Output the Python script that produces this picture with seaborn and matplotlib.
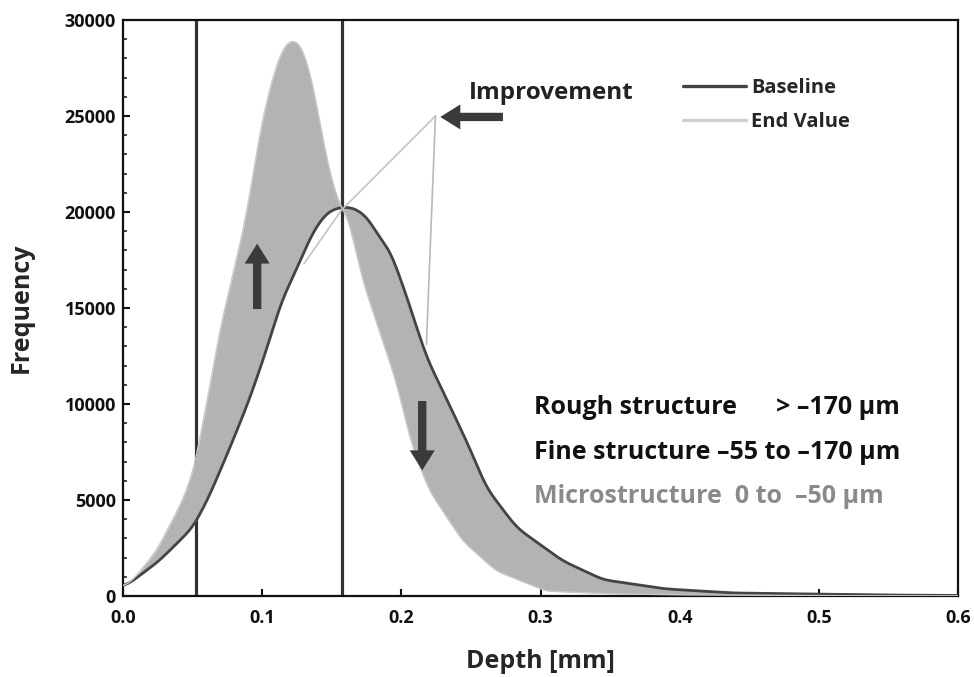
import numpy as np
import pandas as pd
import seaborn as sns
import matplotlib.pyplot as plt
from matplotlib.ticker import MultipleLocator

sns.set_theme(style="ticks")
plt.rcParams['font.family'] = ['Open Sans', 'DejaVu Sans']
plt.rcParams['font.weight'] = 'bold'

# depth [mm] and frequency
base_depth = [0.0, 0.004, 0.026, 0.050, 0.0605, 0.076, 0.0906, 0.103, 0.114, 0.1245,
              0.136, 0.146, 0.155, 0.165, 0.175, 0.184, 0.192, 0.204, 0.218, 0.232,
              0.249, 0.261, 0.283, 0.316, 0.345, 0.39, 0.438, 0.5, 0.55, 0.6]
base_freq = [500, 630, 1830, 3550, 4960, 7575, 10190, 12800, 15400, 16980,
             18910, 19960, 20250, 20250, 19800, 18700, 18020, 15570, 12430, 10340,
             7730, 5640, 3550, 1830, 850, 370, 160, 100, 50, 30]

end_depth = [0.0, 0.0065, 0.024, 0.043, 0.051, 0.0605, 0.071, 0.0747, 0.088, 0.100,
             0.109, 0.116, 0.122, 0.128, 0.134, 0.139, 0.141, 0.148, 0.156, 0.161,
             0.172, 0.184, 0.196, 0.208, 0.220, 0.244, 0.268, 0.304, 0.35, 0.4,
             0.5, 0.6]
end_freq = [500, 780, 2350, 5000, 6600, 10190, 14400, 15400, 19600, 24800,
            27400, 28700, 29000, 28700, 27400, 25700, 24800, 22200, 20200, 19950,
            16460, 13850, 11230, 7730, 5490, 2870, 1310, 260, 120, 60,
            20, 10]

structure_bounds = [0.0525, 0.157]
legend_labels = ["Baseline", "End Value"]
range_lines = ["Rough structure      > \u2013170 \u00b5m",
               "Fine structure \u201355 to \u2013170 \u00b5m",
               "Microstructure  0 to  \u201350 \u00b5m"]
range_colors = ["#111111", "#111111", "#8a8a8a"]


def smooth(x, y, grid, sigma=4):
    v = np.interp(grid, x, y)
    k = np.arange(-3 * sigma, 3 * sigma + 1)
    w = np.exp(-0.5 * (k / sigma) ** 2)
    w /= w.sum()
    p = np.pad(v, 3 * sigma, mode="edge")
    return np.convolve(p, w, mode="valid")


grid = np.linspace(0, 0.6, 601)
base_i = smooth(base_depth, base_freq, grid)
end_i = smooth(end_depth, end_freq, grid, sigma=3)

df = pd.concat([
    pd.DataFrame({"Depth": grid, "Frequency": base_i, "curve": legend_labels[0]}),
    pd.DataFrame({"Depth": grid, "Frequency": end_i, "curve": legend_labels[1]}),
])

fig = plt.figure(figsize=(9.74, 6.77), dpi=100)
ax = fig.add_axes([0.1263, 0.1196, 0.8573, 0.8509])

for b in structure_bounds:
    ax.axvline(b, color="#333333", lw=2.3, zorder=0.5)

ax.fill_between(grid, base_i, end_i, color="#b3b3b3", lw=0, zorder=2)

sns.lineplot(data=df, x="Depth", y="Frequency", hue="curve",
             palette={"Baseline": "#444444", "End Value": "#c8c8c8"},
             ax=ax, legend=False, zorder=3, linewidth=2, sort=False)
ax.lines[-1].set_linewidth(1.0)

# improvement pointer lines
ax.plot([0.2245, 0.157, 0.13], [25000, 20100, 17300], color="#c4c4c4", lw=1.2, zorder=4)
ax.plot([0.2245, 0.218], [25000, 13100], color="#b8b8b8", lw=1.2, zorder=4)

arrow_kw = dict(arrowstyle="simple,head_width=1.5,head_length=1.2,tail_width=0.5",
                color="#3a3a3a", lw=0)
ax.annotate("", xy=(0.226, 24950), xytext=(0.275, 24950), arrowprops=arrow_kw, zorder=5)
ax.annotate("", xy=(0.0964, 18500), xytext=(0.0964, 14800), arrowprops=arrow_kw, zorder=5)
ax.annotate("", xy=(0.215, 6400), xytext=(0.215, 10300), arrowprops=arrow_kw, zorder=5)

ax.text(0.2485, 26200, "Improvement", fontsize=17.5, fontweight="bold",
        color="#222222", va="center")

handles = [plt.Line2D([], [], color="#444444", lw=2.4),
           plt.Line2D([], [], color="#cfcfcf", lw=2.4)]
ax.legend(handles, legend_labels, loc="upper left", bbox_to_anchor=(0.671, 0.90),
          frameon=False, handlelength=3.1, labelspacing=0.72, handletextpad=0.25,
          borderpad=0, borderaxespad=0, prop={"weight": "bold", "size": 14.5})

for i, (t, c) in enumerate(zip(range_lines, range_colors)):
    ax.text(0.295, 9800 - i * 2300, t, fontsize=18, fontweight="bold", color=c, va="center")

ax.set_xlim(0, 0.6)
ax.set_ylim(0, 30000)
ax.xaxis.set_major_locator(MultipleLocator(0.1))
ax.yaxis.set_major_locator(MultipleLocator(5000))
ax.yaxis.set_minor_locator(MultipleLocator(1000))
ax.tick_params(axis="both", which="major", direction="in", length=5, width=1.5,
               labelsize=13, colors="#111111")
ax.tick_params(axis="x", which="major", pad=9)
ax.tick_params(axis="y", which="major", pad=5)
ax.tick_params(axis="y", which="minor", direction="in", length=3, width=1.2)
for lab in ax.get_xticklabels() + ax.get_yticklabels():
    lab.set_fontweight("bold")
for s in ax.spines.values():
    s.set_color("#111111")
    s.set_linewidth(1.6)

ax.set_xlabel("Depth [mm]", fontsize=18, fontweight="bold", labelpad=16)
ax.set_ylabel("Frequency", fontsize=18, fontweight="bold", labelpad=22)

fig.savefig("out.png", dpi=100)
